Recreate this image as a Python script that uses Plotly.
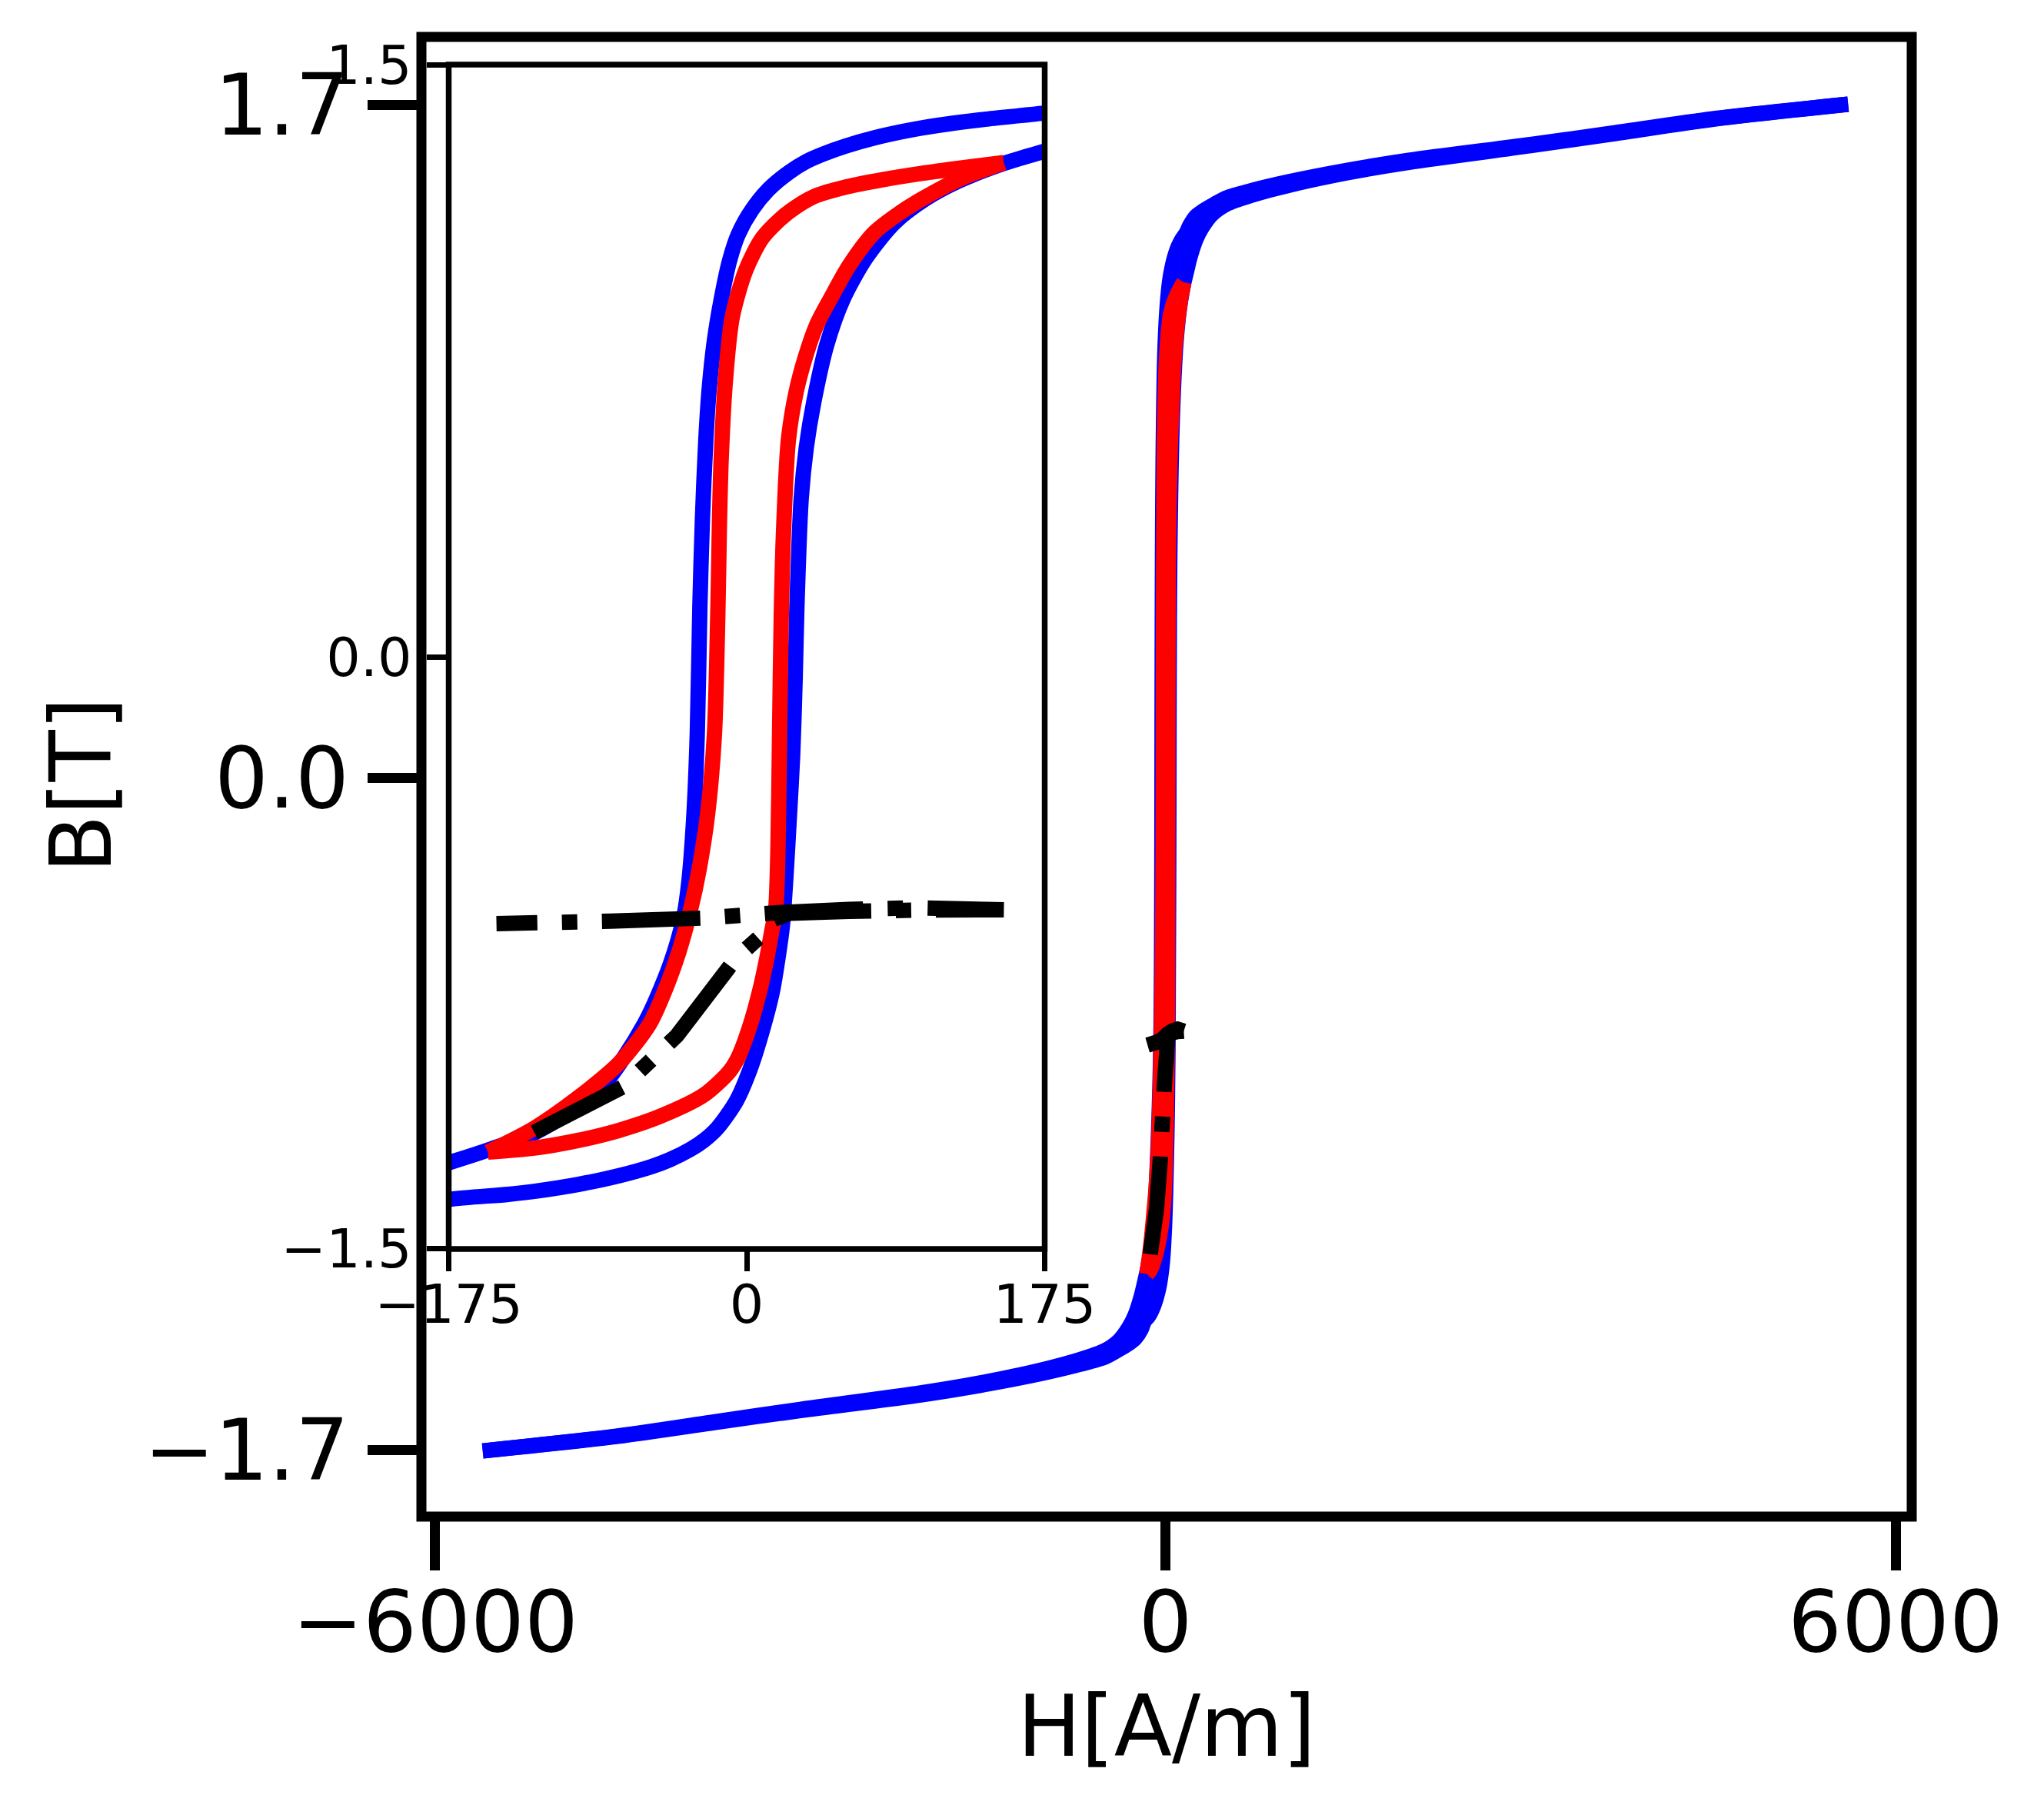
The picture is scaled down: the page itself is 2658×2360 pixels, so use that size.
import plotly.graph_objects as go

# ---------------- data ----------------
# major loop, descending branch (H in A/m, B in T)
h_desc = [5610, 4500, 3700, 3000, 2000, 1500, 1000, 700, 500, 380, 300, 250, 200,
          175, 140, 118, 99, 75, 58, 45, 35, 25, 13, 3, -5, -10, -15, -19, -22,
          -24, -26, -27.5, -29, -31, -34, -37, -45, -60, -87, -124, -150, -175, -200,
          -250, -300, -380, -500, -700, -1000, -1500, -2000, -3000, -3700, -4500, -5610]
b_desc = [1.702, 1.665, 1.630, 1.600, 1.560, 1.535, 1.505, 1.483, 1.465, 1.445, 1.430, 1.418, 1.395,
          1.378, 1.362, 1.350, 1.337, 1.315, 1.294, 1.274, 1.255, 1.228, 1.185, 1.132, 1.070, 1.005, 0.905, 0.800, 0.680,
          0.550, 0.350, 0.127, -0.191, -0.400, -0.571, -0.660, -0.780, -0.929, -1.099, -1.205, -1.247, -1.282, -1.313,
          -1.360, -1.390, -1.423, -1.449, -1.471, -1.496, -1.529, -1.555, -1.597, -1.628, -1.664, -1.702]

# major loop, ascending branch
h_asc = [-5610, -4500, -3700, -3000, -2000, -1500, -1000, -700, -500, -380, -300, -250, -200,
         -175, -140, -124, -99, -75, -56, -45, -33, -25, -17, -6, 2, 9, 15, 18.5, 21, 23,
         25, 27, 28.5, 29.5, 32, 35, 39.4, 47, 56.8, 70, 86.6, 105, 123.7, 151.6, 175, 200, 250, 300,
         380, 500, 700, 1000, 1500, 2000, 3000, 3700, 4500, 5610]
b_asc = [-1.702, -1.665, -1.630, -1.600, -1.560, -1.535, -1.505, -1.483, -1.465, -1.445, -1.430, -1.418, -1.395,
         -1.375, -1.362, -1.354, -1.337, -1.315, -1.292, -1.274, -1.248, -1.225, -1.193, -1.125, -1.045, -0.950, -0.850, -0.760, -0.680, -0.560,
         -0.410, -0.250, -0.050, 0.127, 0.400, 0.530, 0.645, 0.790, 0.908, 1.010, 1.099, 1.160, 1.204, 1.251, 1.281, 1.313, 1.360, 1.390,
         1.423, 1.449, 1.471, 1.496, 1.529, 1.555, 1.597, 1.628, 1.664, 1.702]

# minor loop (red)
h_red_desc = [151, 125, 103, 80, 59, 40, 29, 20, 9, -0.5, -8.5, -12.5, -15, -16, -17, -19,
              -23, -28, -33, -40, -48, -57, -75, -100, -125, -152]
b_red_desc = [1.252, 1.238, 1.225, 1.209, 1.191, 1.167, 1.140, 1.110, 1.060, 0.980, 0.860, 0.700, 0.500, 0.340, 0.100, -0.200,
              -0.400, -0.540, -0.641, -0.750, -0.845, -0.930, -1.030, -1.120, -1.195, -1.255]
h_red_asc = [-152, -125, -99.6, -75, -50, -25, -10, -5, 2, 8, 12, 14.6, 17, 18.3, 19.3, 20.3, 21.5,
             24.5, 29, 34.5, 41, 49.3, 60, 75, 90, 103, 125, 151]
b_red_asc = [-1.255, -1.245, -1.226, -1.200, -1.163, -1.110, -1.050, -1.015, -0.934, -0.840, -0.760, -0.698, -0.641, -0.500, -0.200, 0.100, 0.300,
             0.549, 0.670, 0.760, 0.840, 0.908, 0.990, 1.075, 1.125, 1.160, 1.210, 1.252]

# black dash-dot curve: rise and forward sweep, then the return sweep
h_black_up = [-124.8, -100, -72.8, -41, -6.5, 9.3, 16, 25, 60, 100, 151]
b_black_up = [-1.205, -1.150, -1.090, -0.960, -0.765, -0.703, -0.665, -0.650, -0.645, -0.642, -0.641]
h_black_back = [151, 100, 60, 20, -25, -80, -147]
b_black_back = [-0.641, -0.636, -0.640, -0.648, -0.662, -0.670, -0.676]

main_xticks = [-6000, 0, 6000]
main_xtext = ["\u22126000", "0", "6000"]
main_yticks = [-1.7, 0.0, 1.7]
main_ytext = ["\u22121.7", "0.0", "1.7"]
ins_xticks = [-175, 0, 175]
ins_xtext = ["\u2212175", "0", "175"]
ins_yticks = [-1.5, 0.0, 1.5]
ins_ytext = ["\u22121.5", "0.0", "1.5"]

# ---------------- layout geometry ----------------
OFF = 8                      # default page body margin
PAGE_W, PAGE_H = 2658, 2360
W, H = PAGE_W - OFF, PAGE_H - OFF
# main axes edges in page pixels
M_L, M_R, M_T, M_B = 548, 2486, 48, 1972
L = M_L - OFF
T = M_T - OFF
R = W - (M_R - OFF)
B = H - (M_B - OFF)
PW = W - L - R
PH = H - T - B


def fx(px):
    return (px - OFF - L) / PW


def fy(py):
    return (H - B - (py - OFF)) / PH


FONT = "DejaVu Sans"
BLUE = "#0000ff"
RED = "#ff0000"
LW = 20
DASHDOT = "128px,32px,20px,32px"
DASHDOT_BACK = ",".join(["99px", "32px", "20px", "32px"] + ["128px", "32px", "20px", "32px"] * 5)

fig = go.Figure()
for xa, ya in (("x", "y"), ("x2", "y2")):
    for hh, bb in ((h_desc, b_desc), (h_asc, b_asc)):
        fig.add_trace(go.Scatter(x=hh, y=bb, mode="lines", xaxis=xa, yaxis=ya,
                                 line=dict(color=BLUE, width=LW, simplify=False,
                                           shape="spline", smoothing=0.8),
                                 showlegend=False))
    for hh, bb in ((h_red_desc, b_red_desc), (h_red_asc, b_red_asc)):
        fig.add_trace(go.Scatter(x=hh, y=bb, mode="lines", xaxis=xa, yaxis=ya,
                                 line=dict(color=RED, width=LW, simplify=False,
                                           shape="spline", smoothing=0.8),
                                 showlegend=False))
    fig.add_trace(go.Scatter(x=h_black_up, y=b_black_up, mode="lines", xaxis=xa, yaxis=ya,
                             line=dict(color="black", width=LW, dash=DASHDOT, simplify=False),
                             showlegend=False))
    fig.add_trace(go.Scatter(x=h_black_back, y=b_black_back, mode="lines", xaxis=xa, yaxis=ya,
                             line=dict(color="black", width=LW, dash=DASHDOT_BACK, simplify=False),
                             showlegend=False))

ins_x0, ins_x1 = 583.5, 1358.5
ins_y0, ins_y1 = 84, 1624

common = dict(showgrid=False, zeroline=False, showline=False, ticks="outside",
              tickcolor="black", mirror=False, automargin=False)

fig.update_layout(
    width=W, height=H, autosize=False,
    margin=dict(l=L, r=R, t=T, b=B, pad=0, autoexpand=False),
    paper_bgcolor="white", plot_bgcolor="white",
    font=dict(family=FONT, color="black"),
    xaxis=dict(domain=[0, 1], range=[-6113.7, 6132.7], tickmode="array",
               tickvals=main_xticks, ticktext=main_xtext, ticklen=69, tickwidth=13,
               ticklabelstandoff=-27,
               tickfont=dict(size=110, family=FONT), anchor="y", **common),
    yaxis=dict(domain=[0, 1], range=[-1.868, 1.872], tickmode="array",
               tickvals=main_yticks, ticktext=main_ytext, ticklen=69, tickwidth=13,
               ticklabelstandoff=2,
               tickfont=dict(size=110, family=FONT), anchor="x", **common),
    xaxis2=dict(domain=[fx(ins_x0), fx(ins_x1)], range=[-175.05, 175.05], tickmode="array",
                tickvals=ins_xticks, ticktext=ins_xtext, ticklen=28, tickwidth=7,
                ticklabelstandoff=-17,
                tickfont=dict(size=70, family=FONT), anchor="y2", **common),
    yaxis2=dict(domain=[fy(ins_y1), fy(ins_y0)], range=[-1.5005, 1.5005], tickmode="array",
                tickvals=ins_yticks, ticktext=ins_ytext, ticklen=28, tickwidth=7,
                ticklabelstandoff=5,
                tickfont=dict(size=70, family=FONT), anchor="x2", **common),
    shapes=[
        dict(type="rect", xref="paper", yref="paper", x0=0, x1=1, y0=0, y1=1,
             line=dict(color="black", width=13), layer="above"),
        dict(type="rect", xref="paper", yref="paper", x0=fx(ins_x0), x1=fx(ins_x1),
             y0=fy(ins_y1), y1=fy(ins_y0), line=dict(color="black", width=7.5), layer="above"),
    ],
    annotations=[
        dict(text="H[A/m]", xref="paper", yref="paper", x=fx(1517), y=fy(2245),
             xanchor="center", yanchor="middle", showarrow=False,
             font=dict(size=110, family=FONT, color="black")),
        dict(text="B[T]", xref="paper", yref="paper", x=fx(106), y=fy(1021),
             xanchor="center", yanchor="middle", showarrow=False, textangle=-90,
             font=dict(size=110, family=FONT, color="black")),
    ],
)

fig.write_html("out.html")
